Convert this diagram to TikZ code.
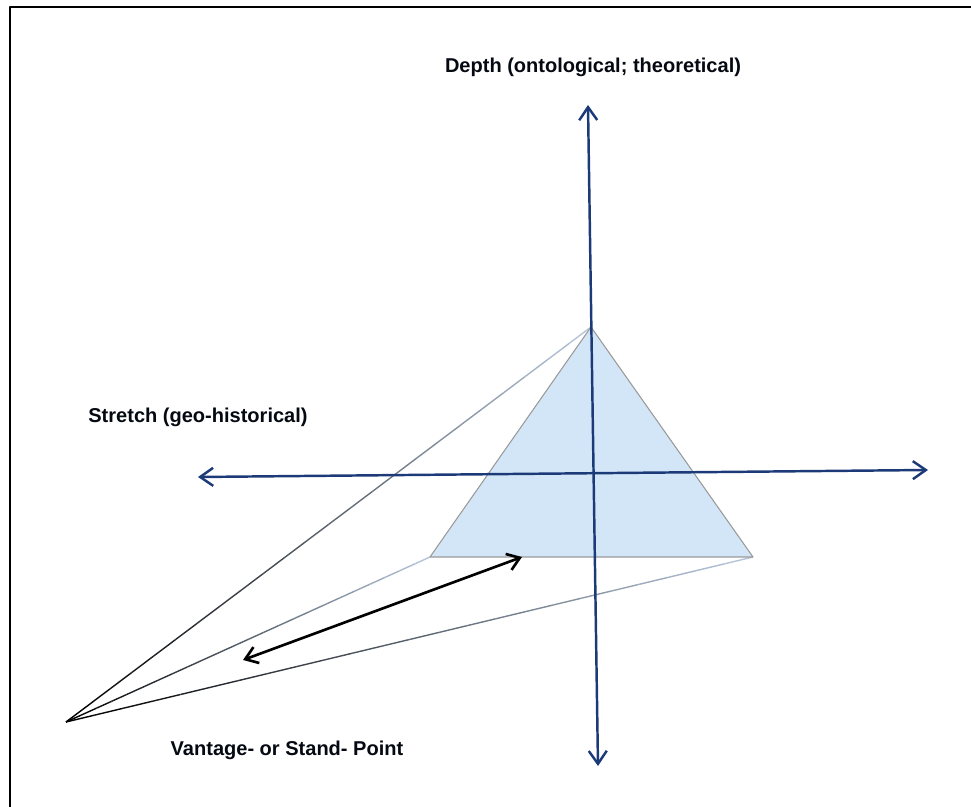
\documentclass[tikz,border=0pt]{standalone}
\usepackage{fontspec}
\setmainfont{Liberation Sans}
\usetikzlibrary{arrows.meta,calc}
\definecolor{navy}{HTML}{1C3A78}
\definecolor{paleblue}{HTML}{D3E6F8}
\definecolor{rayend}{HTML}{C4D6EC}
\tikzset{
  every picture/.style={line join=round, line cap=round, >=Stealth},
  axis/.style={navy, line width=1.4pt, {Straight Barb[length=2.6mm,width=3.6mm]}-{Straight Barb[length=2.6mm,width=3.6mm]}},
  label/.style={font=\bfseries\fontsize{11.4}{13}\selectfont, text=black!85!navy},
  prism/.style={fill=paleblue, draw=black!40, line width=0.6pt},
}

\begin{document}
\begin{tikzpicture}[x=0.02cm, y=-0.02cm]
\useasboundingbox (0,0) rectangle (971,807);
\draw[line width=1.6pt] (10,7) rectangle (990,830);
% points
\coordinate (vp) at (66,722);
\coordinate (apex) at (591,327);
\coordinate (bl) at (430,557);
\coordinate (br) at (753,557);
% rays from the stand-point, dark to pale
\foreach \tgt in {apex,bl,br}{
  \foreach \i in {0,...,23}{
    \pgfmathsetmacro\a{\i/24}
    \pgfmathsetmacro\b{(\i+1)/24}
    \pgfmathtruncatemacro\p{100-4*\i}
    \draw[line width=0.8pt, line cap=butt, color=black!\p!rayend]
      ($(vp)!\a!(\tgt)$) -- ($(vp)!\b!(\tgt)$);
  }
}
% triangle
\draw[prism] (apex) -- (br) -- (bl) -- cycle;
% axes
\coordinate (up) at (588,105);
\coordinate (down) at (598,766);
\coordinate (left) at (198,477);
\coordinate (right) at (928,470);
\draw[axis] (left) -- (right);
\draw[axis] (down) -- (up);
% double arrow
\coordinate (near) at (243,660);
\coordinate (far) at (522,557);
\draw[line width=1.5pt, {Straight Barb[length=2.4mm,width=3.4mm]}-{Straight Barb[length=2.4mm,width=3.4mm]}] (near) -- (far);
% labels
\node[label] (depth) at (593,67) {Depth (ontological; theoretical)};
\node[label] (stretch) at (198,417) {Stretch (geo-historical)};
\node[label] (stand) at (287,750) {Vantage- or Stand- Point};
\end{tikzpicture}
\end{document}
